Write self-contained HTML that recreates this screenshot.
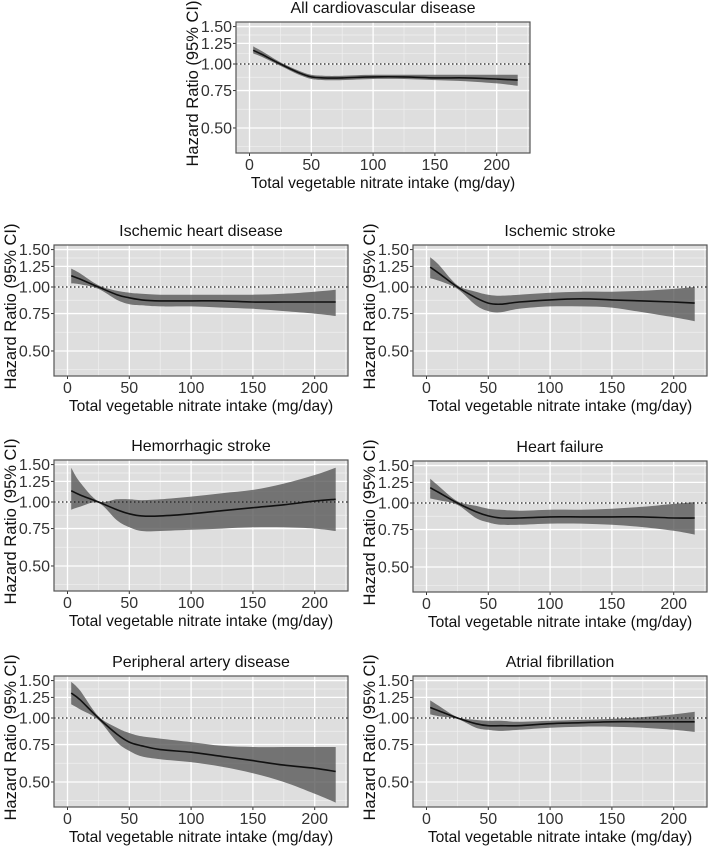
<!DOCTYPE html>
<html><head><meta charset="utf-8">
<style>
html,body{margin:0;padding:0;background:#fff;}
svg{display:block;font-family:"Liberation Sans",Arial,sans-serif;}
</style></head>
<body>
<svg id="fig" width="708" height="846" viewBox="0 0 708 846"></svg>
<script>
const xs = [3,10,25,40,50,60,75,100,125,150,175,200,217];
const xTicks = [0,50,100,150,200];
const yTicks = [0.5,0.75,1.0,1.25,1.5];
const yTickLabels = ["0.50","0.75","1.00","1.25","1.50"];
const titles = ["All cardiovascular disease","Ischemic heart disease","Ischemic stroke","Hemorrhagic stroke","Heart failure","Peripheral artery disease","Atrial fibrillation"];
const cvdMid = [1.16,1.11,1.0,0.91,0.87,0.86,0.86,0.87,0.87,0.86,0.86,0.85,0.84];
const cvdLo  = [1.12,1.08,0.98,0.89,0.85,0.84,0.84,0.85,0.85,0.84,0.83,0.81,0.79];
const cvdHi  = [1.21,1.15,1.02,0.93,0.89,0.88,0.88,0.89,0.89,0.89,0.89,0.89,0.89];
const ihdMid = [1.13,1.09,1.0,0.92,0.89,0.87,0.86,0.86,0.86,0.85,0.85,0.85,0.85];
const ihdLo  = [1.04,1.03,0.98,0.87,0.83,0.82,0.81,0.81,0.80,0.79,0.77,0.75,0.73];
const ihdHi  = [1.22,1.16,1.02,0.96,0.94,0.93,0.92,0.92,0.92,0.92,0.93,0.95,0.97];
const isMid = [1.24,1.16,1.0,0.89,0.84,0.83,0.85,0.87,0.88,0.87,0.86,0.85,0.84];
const isLo  = [1.10,1.07,0.98,0.82,0.77,0.76,0.79,0.81,0.81,0.80,0.76,0.72,0.69];
const isHi  = [1.38,1.27,1.02,0.95,0.92,0.91,0.92,0.94,0.95,0.95,0.96,0.98,1.00];
const hsMid = [1.13,1.08,1.0,0.92,0.88,0.86,0.86,0.88,0.91,0.94,0.97,1.01,1.03];
const hsLo  = [0.92,0.95,0.99,0.82,0.76,0.73,0.73,0.74,0.75,0.76,0.76,0.75,0.73];
const hsHi  = [1.45,1.24,1.01,1.03,1.03,1.02,1.03,1.06,1.10,1.14,1.22,1.34,1.45];
const hfMid = [1.18,1.12,1.0,0.91,0.87,0.85,0.85,0.86,0.86,0.86,0.86,0.85,0.85];
const hfLo  = [1.05,1.03,0.98,0.85,0.81,0.79,0.79,0.80,0.80,0.79,0.77,0.74,0.71];
const hfHi  = [1.30,1.20,1.02,0.97,0.94,0.93,0.92,0.93,0.93,0.94,0.96,0.99,1.01];
const padMid = [1.31,1.22,1.0,0.84,0.77,0.74,0.71,0.69,0.66,0.63,0.60,0.58,0.56];
const padLo  = [1.16,1.10,0.98,0.77,0.70,0.66,0.64,0.62,0.59,0.55,0.50,0.44,0.40];
const padHi  = [1.48,1.35,1.02,0.90,0.85,0.82,0.80,0.77,0.74,0.73,0.73,0.73,0.73];
const afMid = [1.12,1.08,1.0,0.94,0.92,0.92,0.92,0.94,0.95,0.96,0.96,0.96,0.96];
const afLo  = [1.04,1.02,0.99,0.90,0.88,0.87,0.88,0.90,0.91,0.91,0.90,0.88,0.86];
const afHi  = [1.21,1.14,1.01,0.98,0.97,0.97,0.96,0.97,0.98,0.99,1.01,1.04,1.07];

const NS="http://www.w3.org/2000/svg";
const svg=document.getElementById('fig');
const W=294,H=131;
const panels=[
 {l:236,t:22,mid:cvdMid,lo:cvdLo,hi:cvdHi,name:'cvd'},
 {l:54,t:245,mid:ihdMid,lo:ihdLo,hi:ihdHi,name:'ihd'},
 {l:413,t:245,mid:isMid,lo:isLo,hi:isHi,name:'ischemic-stroke'},
 {l:54,t:460,mid:hsMid,lo:hsLo,hi:hsHi,name:'hemorrhagic-stroke'},
 {l:413,t:461,mid:hfMid,lo:hfLo,hi:hfHi,name:'heart-failure'},
 {l:54,t:676,mid:padMid,lo:padLo,hi:padHi,name:'pad'},
 {l:413,t:676,mid:afMid,lo:afLo,hi:afHi,name:'af'}
];
function mk(tag,attrs,parent){const e=document.createElementNS(NS,tag);for(const k in attrs)e.setAttribute(k,attrs[k]);(parent||svg).appendChild(e);return e;}
function smooth(pts){let d='';for(let i=0;i<pts.length-1;i++){const p0=pts[Math.max(0,i-1)],p1=pts[i],p2=pts[i+1],p3=pts[Math.min(pts.length-1,i+2)];const c1=[p1[0]+(p2[0]-p0[0])/6,p1[1]+(p2[1]-p0[1])/6],c2=[p2[0]-(p3[0]-p1[0])/6,p2[1]-(p3[1]-p1[1])/6];d+=' C'+c1[0].toFixed(1)+','+c1[1].toFixed(1)+' '+c2[0].toFixed(1)+','+c2[1].toFixed(1)+' '+p2[0].toFixed(1)+','+p2[1].toFixed(1);}return d;}
panels.forEach((p,idx)=>{
  const xS=v=>p.l+13.5+v*1.236;
  const yS=v=>p.t+42-Math.log(v)*92.3;
  const g=mk('g',{});
  
  
  const bg=mk('rect',{x:p.l,y:p.t,width:W,height:H,fill:'#dedede'},g);
  
  
  const lt=yTicks.map(Math.log);
  const minorsY=[];for(let i=0;i<lt.length-1;i++)minorsY.push((lt[i]+lt[i+1])/2);
  minorsY.push(lt[0]-(lt[1]-lt[0])/2);
  minorsY.forEach(m=>{const y=p.t+42-m*92.3;if(y>p.t&&y<p.t+H)mk('line',{x1:p.l,x2:p.l+W,y1:y,y2:y,stroke:'#f0f0f0','stroke-width':0.7},g);});
  [25,75,125,175,225].forEach(v=>{const x=xS(v);if(x<p.l+W)mk('line',{x1:x,x2:x,y1:p.t,y2:p.t+H,stroke:'#f0f0f0','stroke-width':0.7},g);});
  yTicks.forEach((v,i)=>{const y=yS(v);mk('line',{x1:p.l,x2:p.l+W,y1:y,y2:y,stroke:'#fff','stroke-width':1.3},g);
    mk('line',{x1:p.l-3,x2:p.l,y1:y,y2:y,stroke:'#333','stroke-width':1},g);
    const t=mk('text',{x:p.l-4,y:y+5.5,'text-anchor':'end','font-size':16,fill:'#333'},g);t.textContent=yTickLabels[i];
    
    });
  xTicks.forEach(v=>{const x=xS(v);mk('line',{x1:x,x2:x,y1:p.t,y2:p.t+H,stroke:'#fff','stroke-width':1.3},g);
    mk('line',{x1:x,x2:x,y1:p.t+H,y2:p.t+H+3,stroke:'#333','stroke-width':1},g);
    const t=mk('text',{x:x,y:p.t+H+17,'text-anchor':'middle','font-size':16,fill:'#333'},g);t.textContent=String(v);
    
    });
  const hiPts=xs.map((x,i)=>[xS(x),yS(p.hi[i])]);
  const loPts=xs.map((x,i)=>[xS(x),yS(p.lo[i])]).reverse();
  const dBand='M'+hiPts[0][0]+','+hiPts[0][1]+smooth(hiPts)+' L'+loPts[0][0]+','+loPts[0][1]+smooth(loPts)+' Z';
  const band=mk('path',{d:dBand,fill:'#555','fill-opacity':0.78},g);
  
  
  const ref=mk('line',{x1:p.l,x2:p.l+W,y1:yS(1),y2:yS(1),stroke:'#222','stroke-width':1.3,'stroke-dasharray':'1.5,2.5'},g);
  
  
  const mPts=xs.map((x,i)=>[xS(x),yS(p.mid[i])]);
  const line=mk('path',{d:'M'+mPts[0][0]+','+mPts[0][1]+smooth(mPts),fill:'none',stroke:'#111','stroke-width':1.6},g);
  
  
  mk('rect',{x:p.l,y:p.t,width:W,height:H,fill:'none',stroke:'#555','stroke-width':1.2},g);
  const tt=mk('text',{x:p.l+W/2,y:p.t-9,'text-anchor':'middle','font-size':16,fill:'#111'},g);tt.textContent=titles[idx];
  
  
  const xt=mk('text',{x:p.l+W/2,y:p.t+H+35,'text-anchor':'middle','font-size':15.6,fill:'#111'},g);xt.textContent='Total vegetable nitrate intake (mg/day)';
  
  
  const cy=p.t+H/2-4,cx=p.l-38;
  const yt=mk('text',{x:cx,y:cy,'text-anchor':'middle','font-size':16.5,fill:'#111',transform:'rotate(-90 '+cx+' '+cy+')'},g);yt.textContent='Hazard Ratio (95% CI)';
  
  
});
</script>
</body></html>
